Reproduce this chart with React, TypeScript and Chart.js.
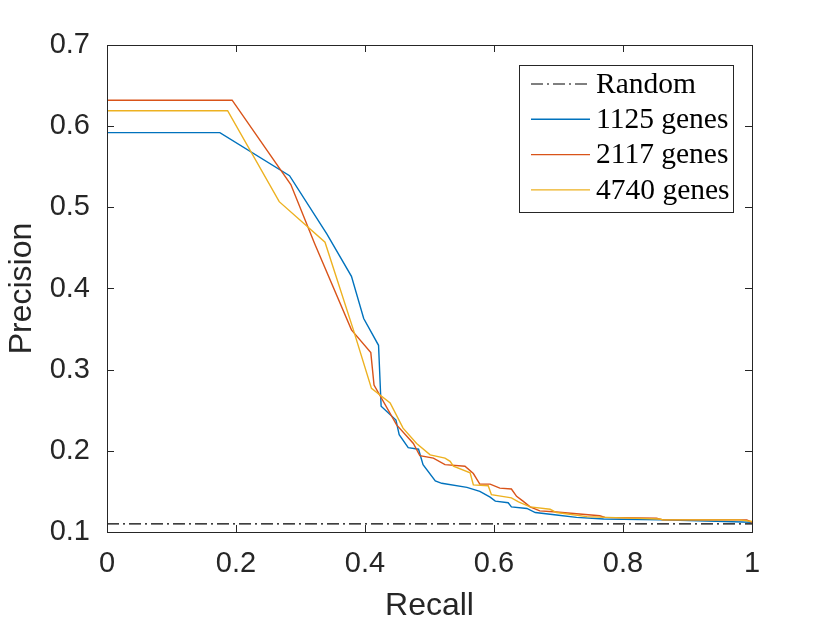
import { Chart, registerables } from 'chart.js';
import { useEffect, useRef } from 'react';

Chart.register(...registerables);

// x = recall, y = precision
const recall1125 = [0, 0.175, 0.283, 0.341, 0.379, 0.398, 0.421, 0.425, 0.448, 0.453, 0.467, 0.483, 0.49, 0.509, 0.519, 0.558, 0.578, 0.594, 0.602, 0.622, 0.627, 0.651, 0.664, 0.697, 0.728, 0.77, 0.86, 1.0];
const precision1125 = [0.592, 0.592, 0.539, 0.467, 0.415, 0.363, 0.33, 0.255, 0.238, 0.22, 0.204, 0.202, 0.183, 0.163, 0.16, 0.155, 0.15, 0.143, 0.138, 0.136, 0.131, 0.129, 0.124, 0.121, 0.118, 0.116, 0.115, 0.112];

const recall2117 = [0, 0.194, 0.285, 0.322, 0.379, 0.409, 0.414, 0.449, 0.475, 0.485, 0.506, 0.524, 0.555, 0.568, 0.578, 0.594, 0.609, 0.627, 0.635, 0.645, 0.656, 0.671, 0.692, 0.764, 0.772, 0.852, 0.862, 0.992, 1.0];
const precision2117 = [0.632, 0.632, 0.528, 0.455, 0.349, 0.321, 0.281, 0.232, 0.209, 0.194, 0.191, 0.183, 0.181, 0.172, 0.159, 0.159, 0.154, 0.153, 0.144, 0.138, 0.131, 0.126, 0.125, 0.12, 0.118, 0.117, 0.115, 0.115, 0.112];

const recall4740 = [0, 0.187, 0.267, 0.338, 0.382, 0.41, 0.439, 0.459, 0.48, 0.501, 0.524, 0.532, 0.537, 0.563, 0.568, 0.591, 0.596, 0.62, 0.627, 0.638, 0.656, 0.687, 0.697, 0.744, 0.775, 0.857, 0.862, 0.981, 1.0];
const precision4740 = [0.619, 0.619, 0.507, 0.457, 0.349, 0.277, 0.259, 0.228, 0.209, 0.195, 0.191, 0.187, 0.181, 0.173, 0.158, 0.157, 0.146, 0.143, 0.142, 0.137, 0.131, 0.128, 0.124, 0.119, 0.118, 0.116, 0.115, 0.115, 0.113];

const recallRandom = [0, 1];
const precisionRandom = [0.11, 0.11];

const seriesLabels = ['Random', '1125 genes', '2117 genes', '4740 genes'];
const xTickLabels = ['0', '0.2', '0.4', '0.6', '0.8', '1'];
const yTickLabels = ['0.1', '0.2', '0.3', '0.4', '0.5', '0.6', '0.7'];

const AXIS = '#262626';
const toPoints = (xs: number[], ys: number[]) => xs.map((x, i) => ({ x, y: ys[i] }));

// box around the axes with inward ticks on every side
const framePlugin = {
    id: 'frame',
    afterDatasetsDraw(chart: any) {
        const { ctx, chartArea: a, scales } = chart;
        const len = 7;
        ctx.save();
        ctx.strokeStyle = AXIS;
        ctx.lineWidth = 1;
        ctx.strokeRect(a.left + 0.5, a.top + 0.5, a.right - a.left, a.bottom - a.top);
        ctx.beginPath();
        scales.x.ticks.forEach((t: any) => {
            const px = Math.round(scales.x.getPixelForValue(t.value)) + 0.5;
            ctx.moveTo(px, a.bottom);
            ctx.lineTo(px, a.bottom - len);
            ctx.moveTo(px, a.top);
            ctx.lineTo(px, a.top + len);
        });
        scales.y.ticks.forEach((t: any) => {
            const py = Math.round(scales.y.getPixelForValue(t.value)) + 0.5;
            ctx.moveTo(a.left, py);
            ctx.lineTo(a.left + len, py);
            ctx.moveTo(a.right, py);
            ctx.lineTo(a.right - len, py);
        });
        ctx.stroke();
        ctx.restore();
    },
};

// legend box inside the plot, top right
const legendPlugin = {
    id: 'boxLegend',
    afterDraw(chart: any) {
        const { ctx } = chart;
        const left = 519, top = 65, w = 214, h = 147;
        const rowH = 35.3;
        ctx.save();
        ctx.fillStyle = '#ffffff';
        ctx.fillRect(left, top, w, h);
        ctx.strokeStyle = AXIS;
        ctx.lineWidth = 1;
        ctx.strokeRect(left + 0.5, top + 0.5, w, h);
        ctx.font = '29.5px "Liberation Serif", serif';
        ctx.textBaseline = 'middle';
        chart.data.datasets.forEach((ds: any, i: number) => {
            const cy = top + 19 + i * rowH;
            ctx.beginPath();
            ctx.strokeStyle = ds.borderColor;
            ctx.lineWidth = ds.borderWidth;
            ctx.setLineDash(ds.borderDash || []);
            ctx.moveTo(left + 12, cy);
            ctx.lineTo(left + 71, cy);
            ctx.stroke();
            ctx.setLineDash([]);
            ctx.fillStyle = '#000000';
            ctx.fillText(ds.label, left + 77, cy + 1);
        });
        ctx.restore();
    },
};

export default function App() {
    const chartRef = useRef<HTMLCanvasElement | null>(null);
    const chartInstanceRef = useRef<Chart | null>(null);

    useEffect(() => {
        if (!chartRef.current) return;
        const ctx = chartRef.current.getContext('2d');
        if (!ctx) return;

        if (chartInstanceRef.current) {
            chartInstanceRef.current.destroy();
        }

        const line = { fill: false, pointRadius: 0, tension: 0, borderWidth: 1.4 };

        chartInstanceRef.current = new Chart(ctx, {
            type: 'line',
            data: {
                datasets: [
                    { ...line, label: seriesLabels[0], data: toPoints(recallRandom, precisionRandom), borderColor: '#000000', borderWidth: 1.2, borderDash: [12, 4, 2, 4], order: 4 },
                    { ...line, label: seriesLabels[1], data: toPoints(recall1125, precision1125), borderColor: '#0072BD', order: 3 },
                    { ...line, label: seriesLabels[2], data: toPoints(recall2117, precision2117), borderColor: '#D95319', order: 2 },
                    { ...line, label: seriesLabels[3], data: toPoints(recall4740, precision4740), borderColor: '#EDB120', order: 1 },
                ],
            },
            options: {
                animation: false,
                responsive: true,
                maintainAspectRatio: false,
                layout: { padding: { left: 0, top: 45, right: 78, bottom: 0 } },
                plugins: {
                    legend: { display: false },
                    tooltip: { enabled: false },
                },
                scales: {
                    x: {
                        type: 'linear',
                        min: 0,
                        max: 1,
                        afterFit: (scale: any) => { scale.height = 91; },
                        grid: { display: false, drawTicks: false },
                        border: { display: false },
                        ticks: {
                            stepSize: 0.2,
                            padding: 15,
                            color: AXIS,
                            font: { family: '"Liberation Sans", Arial, sans-serif', size: 29 },
                            callback: (_v: any, i: number) => xTickLabels[i],
                        },
                        title: {
                            display: true,
                            text: 'Recall',
                            color: AXIS,
                            padding: { top: 0, bottom: 1 },
                            font: { family: '"Liberation Sans", Arial, sans-serif', size: 32, lineHeight: 1 },
                        },
                    },
                    y: {
                        type: 'linear',
                        min: 0.1,
                        max: 0.7,
                        afterFit: (scale: any) => { scale.width = 107; },
                        grid: { display: false, drawTicks: false },
                        border: { display: false },
                        ticks: {
                            stepSize: 0.1,
                            padding: 17,
                            color: AXIS,
                            font: { family: '"Liberation Sans", Arial, sans-serif', size: 29 },
                            callback: (_v: any, i: number) => yTickLabels[i],
                        },
                        title: {
                            display: true,
                            text: 'Precision',
                            color: AXIS,
                            padding: { top: 6, bottom: 0 },
                            font: { family: '"Liberation Sans", Arial, sans-serif', size: 32, lineHeight: 1 },
                        },
                    },
                },
            },
            plugins: [framePlugin, legendPlugin],
        });

        return () => {
            if (chartInstanceRef.current) {
                chartInstanceRef.current.destroy();
                chartInstanceRef.current = null;
            }
        };
    }, []);

    return (
        <div style={{ position: 'absolute', left: 0, top: 0, width: 830, height: 623, background: '#ffffff' }}>
            <canvas ref={chartRef}></canvas>
        </div>
    );
}
